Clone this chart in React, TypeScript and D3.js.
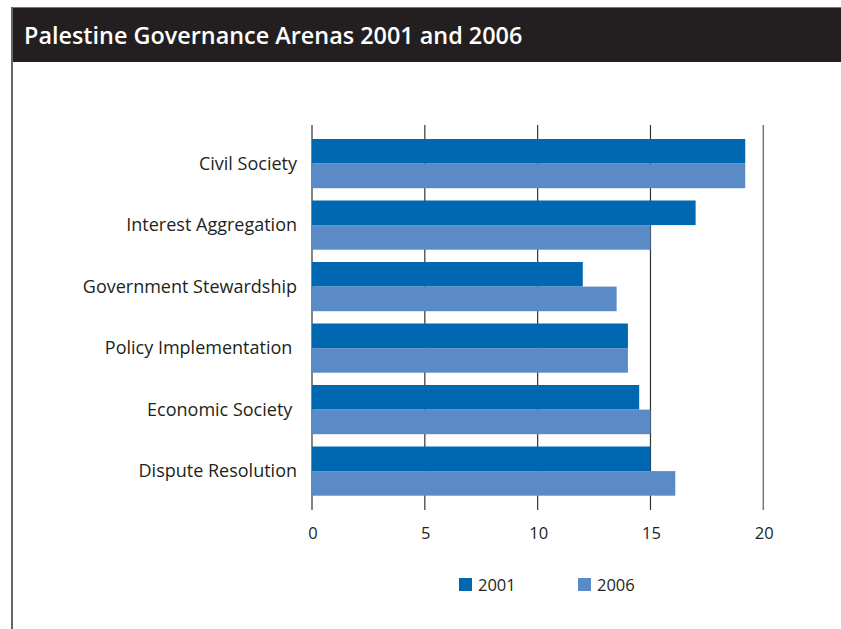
import React from "react";
import * as d3 from "d3";

const categories = [
  "Civil Society",
  "Interest Aggregation",
  "Government Stewardship",
  "Policy Implementation ",
  "Economic Society ",
  "Dispute Resolution",
];
const values2001 = [19.2, 17, 12, 14, 14.5, 15];
const values2006 = [19.2, 15, 13.5, 14, 15, 16.1];
const seriesNames = ["2001", "2006"];
const xTicks = [0, 5, 10, 15, 20];

const COLORS = ["#0067b1", "#5b8bc6"];
const FONT = "'Open Sans', sans-serif";

export default function App() {
  const W = 841;
  const H = 629;
  const x = d3.scaleLinear().domain([0, 20]).range([312, 763.3]);
  const y = d3
    .scaleBand<string>()
    .domain(categories)
    .range([132.85, 501.85])
    .paddingInner(0.2)
    .paddingOuter(0.1);
  const bw = y.bandwidth();
  const half = bw / 2;
  const series = [values2001, values2006];

  return (
    <svg
      width={W}
      height={H}
      style={{ position: "absolute", left: 0, top: 0, display: "block" }}
    >
      <rect x={0} y={0} width={W} height={H} fill="#fff" />
      {/* title bar */}
      <rect x={11} y={7} width={W - 11} height={55} fill="#231f20" />
      <line x1={11} x2={W} y1={7.5} y2={7.5} stroke="#777" strokeWidth={1} />
      <line x1={12} x2={12} y1={7} y2={H} stroke="#666" strokeWidth={2} />
      <text
        x={24}
        y={43.5}
        fill="#fff"
        fontFamily={FONT}
        fontWeight={600}
        fontSize={23.4}
      >
        Palestine Governance Arenas 2001 and 2006
      </text>

      {/* gridlines */}
      {xTicks.map((t, i) => (
        <line
          key={t}
          x1={x(t)}
          x2={x(t)}
          y1={125}
          y2={510}
          stroke={i === xTicks.length - 1 ? "#777" : "#333"}
          strokeWidth={i === xTicks.length - 1 ? 1.5 : 1.2}
        />
      ))}

      {/* bars */}
      {categories.map((c, i) =>
        series.map((s, k) => (
          <rect
            key={c + k}
            x={x(0)}
            y={(y(c) as number) + k * half}
            width={x(s[i]) - x(0)}
            height={half}
            fill={COLORS[k]}
          />
        ))
      )}

      {/* category labels */}
      {categories.map((c) => (
        <text
          key={c}
          x={297}
          y={(y(c) as number) + half}
          dy="0.35em"
          textAnchor="end"
          fontFamily={FONT}
          fontSize={18}
          fill="#231f20"
          style={{ whiteSpace: "pre" }}
        >
          {c}
        </text>
      ))}

      {/* x tick labels */}
      {xTicks.map((t) => (
        <text
          key={t}
          x={x(t) + 1}
          y={539}
          textAnchor="middle"
          fontFamily={FONT}
          fontSize={16.5}
          fill="#231f20"
        >
          {t}
        </text>
      ))}

      {/* legend */}
      {seriesNames.map((n, k) => (
        <g key={n} transform={`translate(${459 + k * 119},578)`}>
          <rect x={0} y={0} width={13} height={13} fill={COLORS[k]} />
          <text
            x={19}
            y={12.5}
            fontFamily={FONT}
            fontSize={16.5}
            fill="#231f20"
          >
            {n}
          </text>
        </g>
      ))}
    </svg>
  );
}
